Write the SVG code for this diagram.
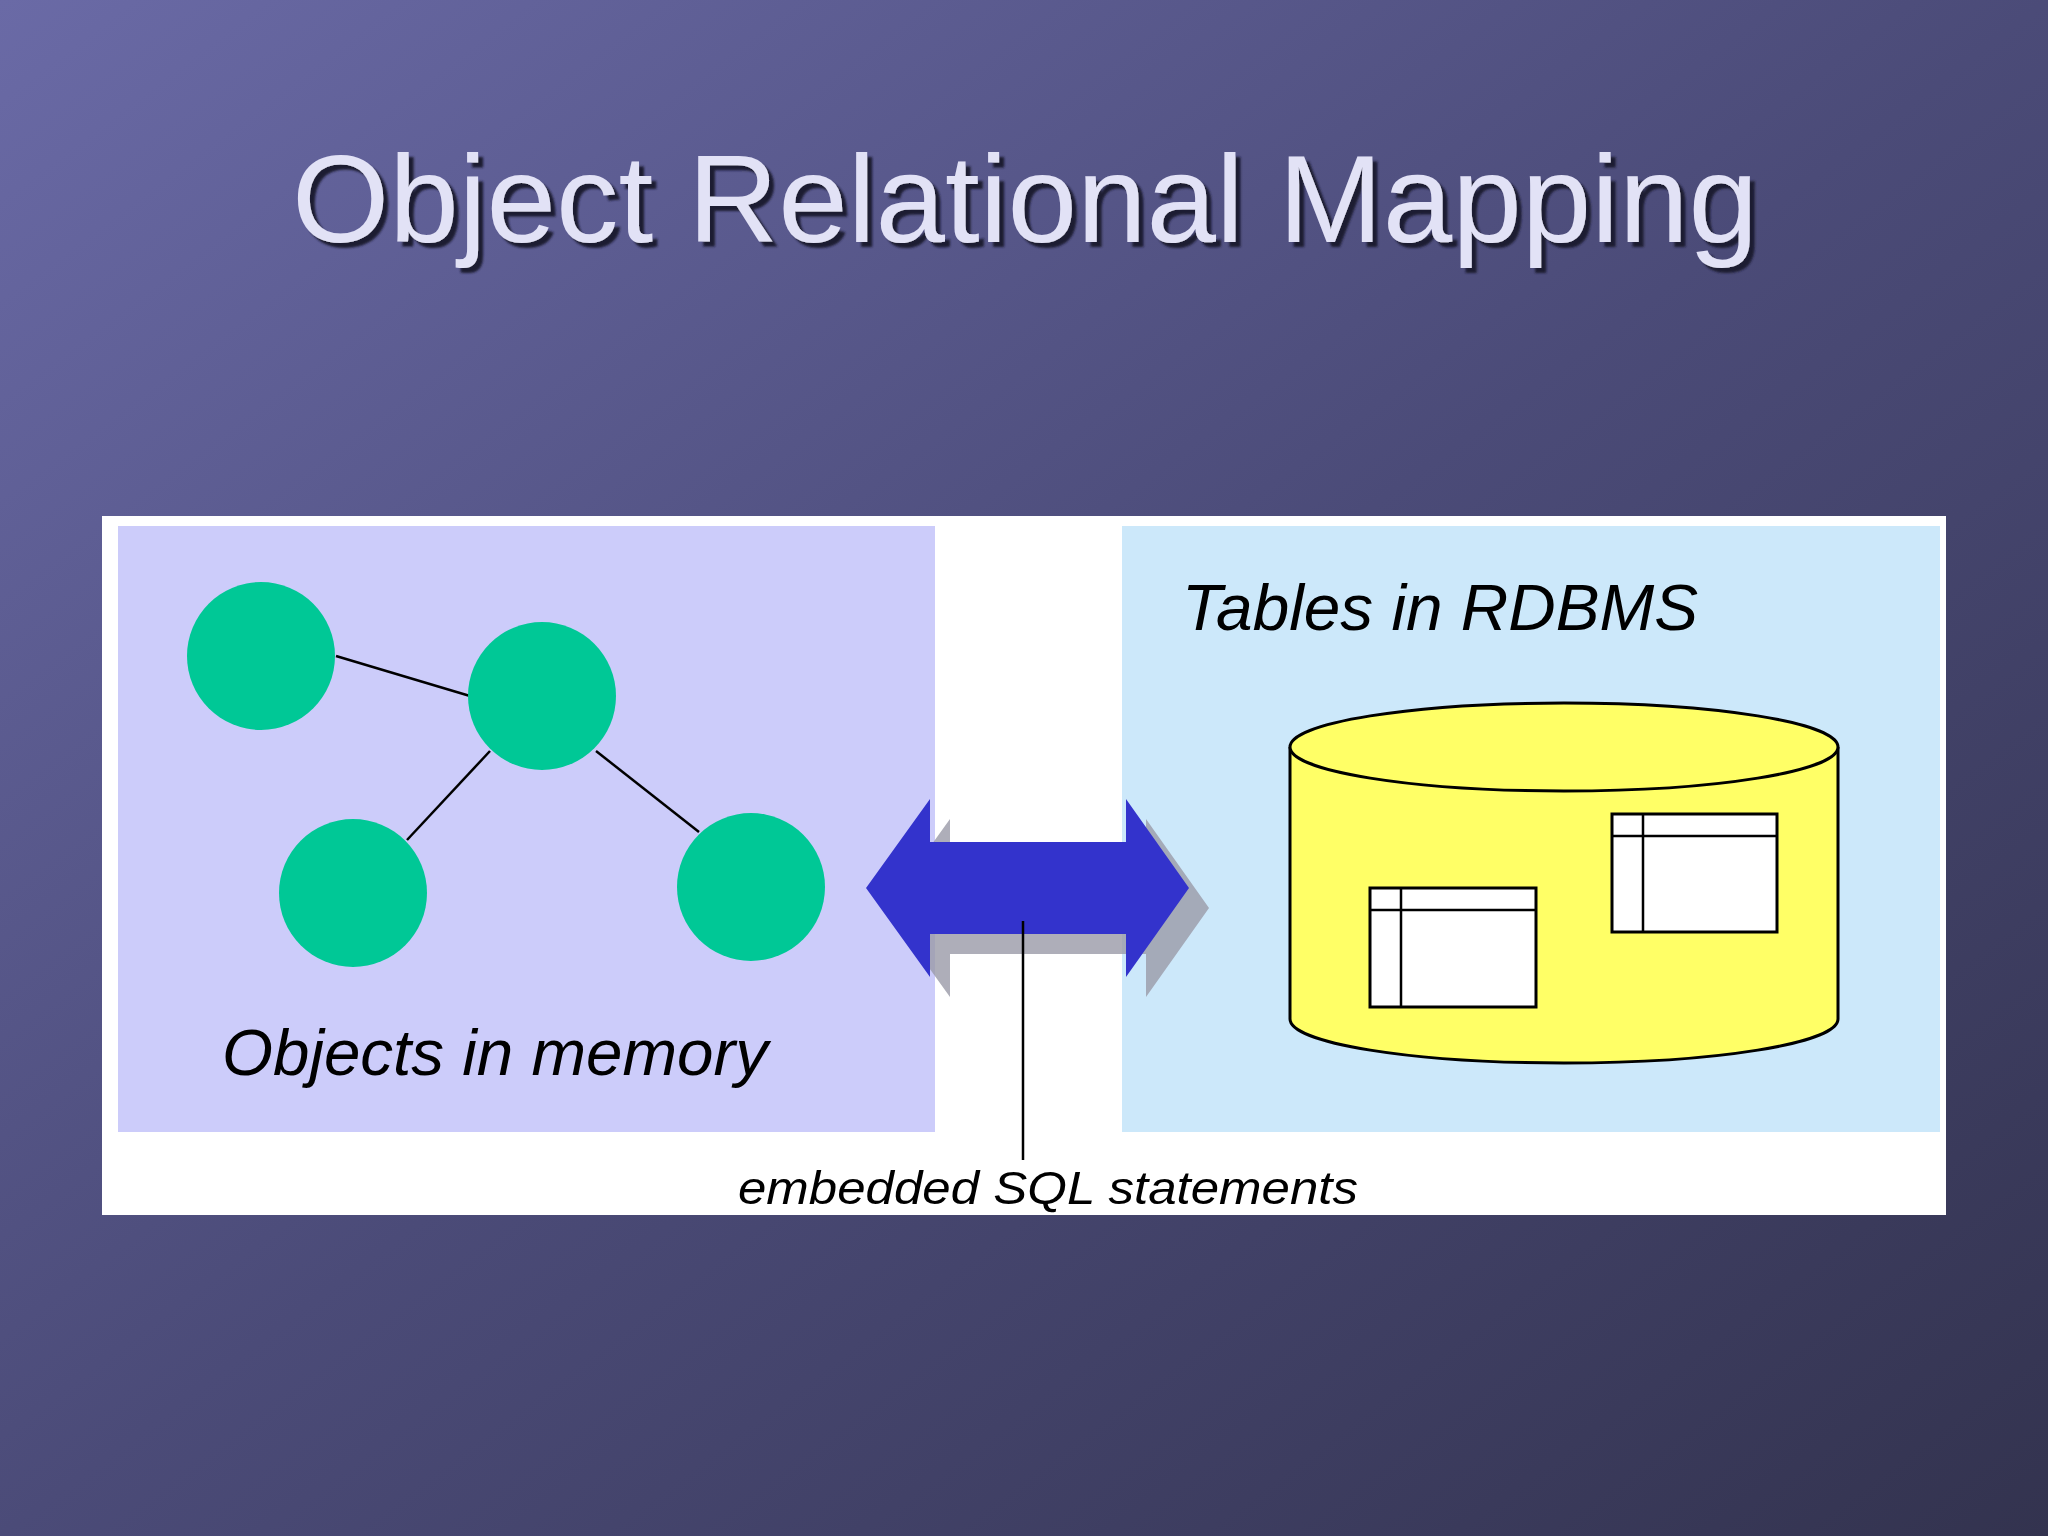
<svg xmlns="http://www.w3.org/2000/svg" width="2048" height="1536" viewBox="0 0 2048 1536">
<defs>
<linearGradient id="bg" x1="0" y1="0" x2="1" y2="1">
<stop offset="0" stop-color="#6a6aa6"/><stop offset="0.5" stop-color="#4b4b78"/><stop offset="1" stop-color="#33334f"/>
</linearGradient>
<filter id="sh" x="-5%" y="-20%" width="110%" height="140%">
<feDropShadow dx="5" dy="5" stdDeviation="1" flood-color="#1c1c30" flood-opacity="1"/>
</filter>
<style>
.c{fill:#00c896}
.l{stroke:#000;stroke-width:2.5;fill:none}
.t{font-family:"Liberation Sans",Arial,sans-serif;font-style:italic;fill:#000}
.k{stroke:#000;stroke-width:3;fill:#fff}
</style>
</defs>
<rect width="2048" height="1536" fill="url(#bg)"/>
<g id="title">
<text x="1025" y="242" fill="#e2e2f6" filter="url(#sh)" font-family="Liberation Sans,Arial,sans-serif" font-size="125" text-anchor="middle">Object Relational Mapping</text>
</g>
<rect x="102" y="516" width="1844" height="699" fill="#fff"/>
<g id="objects">
<rect x="118" y="526" width="817" height="606" fill="#ccccfa"/>
<text class="t" x="222" y="1075" font-size="64" textLength="546" lengthAdjust="spacingAndGlyphs">Objects in memory</text>
</g>
<g id="rdbms">
<rect x="1122" y="526" width="818" height="606" fill="#cce8fa"/>
<text class="t" x="1182" y="630" font-size="64" textLength="516" lengthAdjust="spacingAndGlyphs">Tables in RDBMS</text>
<path d="M1290,747 L1290,1019 A274,44 0 0 0 1838,1019 L1838,747" fill="#ffff66" stroke="#000" stroke-width="3"/>
<ellipse cx="1564" cy="747" rx="274" ry="44" fill="#ffff66" stroke="#000" stroke-width="3"/>
<rect class="k" x="1370" y="888" width="166" height="119"/>
<path class="l" d="M1370,910 H1536 M1401,888 V1007" stroke-width="3"/>
<rect class="k" x="1612" y="814" width="165" height="118"/>
<path class="l" d="M1612,836 H1777 M1643,814 V932" stroke-width="3"/>
</g>
<g id="connectors">
<line class="l" x1="336" y1="656" x2="470" y2="696"/>
<line class="l" x1="490" y1="751" x2="407" y2="840"/>
<line class="l" x1="596" y1="751" x2="699" y2="832"/>
<polygon points="886,908 950,819 950,862 1146,862 1146,819 1209,908 1146,997 1146,954 950,954 950,997" fill="#9a9aa8" opacity="0.8"/>
<polygon points="866,888 930,799 930,842 1126,842 1126,799 1189,888 1126,977 1126,934 930,934 930,977" fill="#3333cc"/>
<line class="l" x1="1023" y1="921" x2="1023" y2="1160"/>
</g>
<g id="nodes">
<circle id="n1" class="c" cx="261" cy="656" r="74"/>
<circle id="n2" class="c" cx="542" cy="696" r="74"/>
<circle id="n3" class="c" cx="353" cy="893" r="74"/>
<circle id="n4" class="c" cx="751" cy="887" r="74"/>
</g>
<text class="t" x="738" y="1204" font-size="47" textLength="620" lengthAdjust="spacingAndGlyphs">embedded SQL statements</text>
</svg>
